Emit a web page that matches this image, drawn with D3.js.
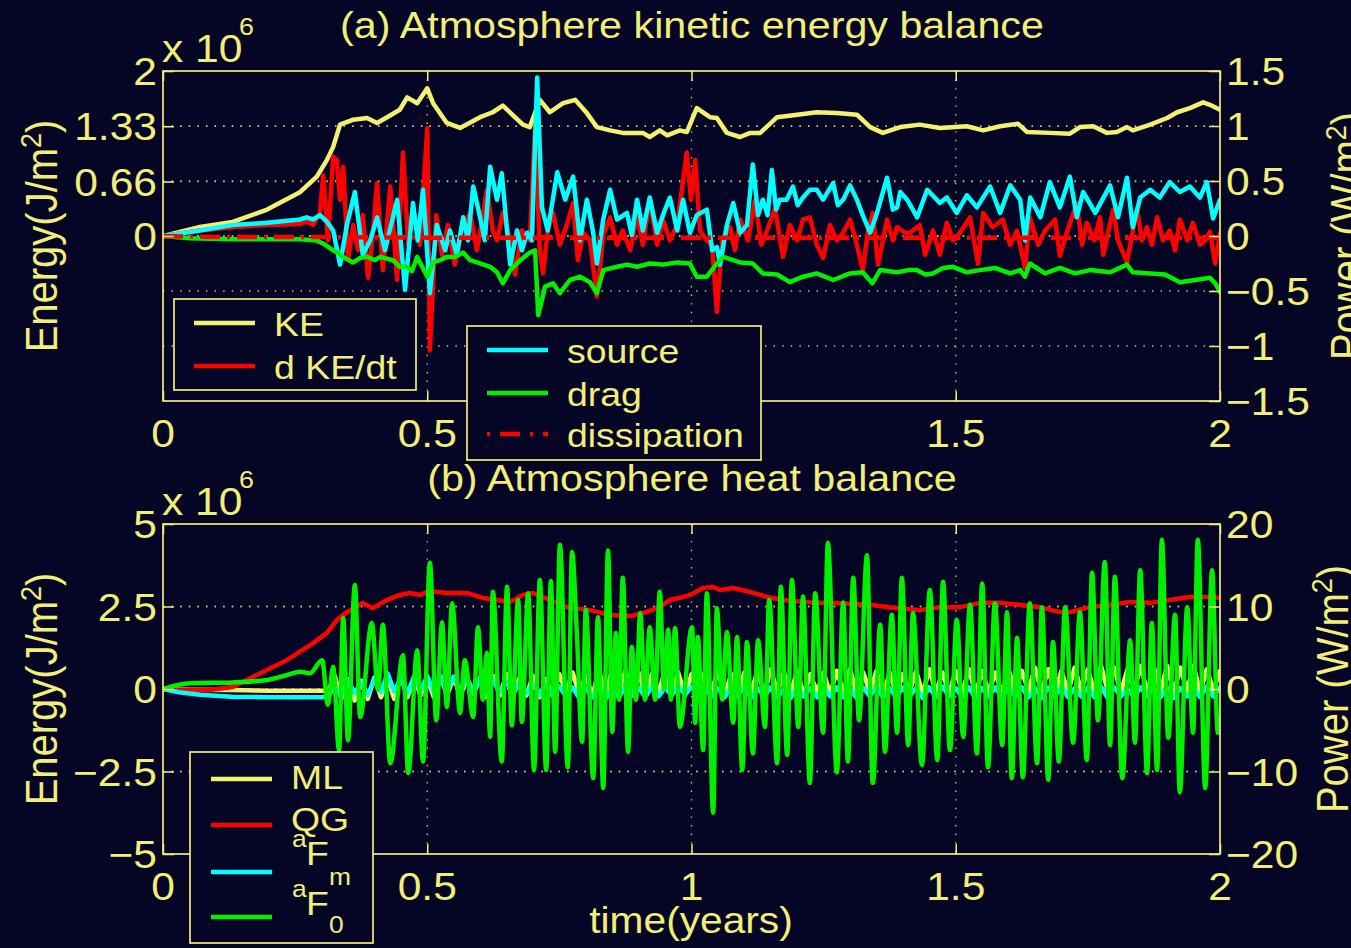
<!DOCTYPE html>
<html><head><meta charset="utf-8">
<script src="https://cdn.jsdelivr.net/npm/d3@7"></script>
<style>html,body{margin:0;padding:0;background:#050626;overflow:hidden}svg{display:block}</style>
</head><body>
<script>
// ---------------- DATA ----------------
const xTicks = [0, 0.5, 1, 1.5, 2];
const aLeftTicks = [0, 0.66, 1.33, 2];
const aLeftLabels = ["0", "0.66", "1.33", "2"];
const aRightTicks = [-1.5, -1, -0.5, 0, 0.5, 1, 1.5];
const bLeftTicks = [-5, -2.5, 0, 2.5, 5];
const bRightTicks = [-20, -10, 0, 10, 20];

// Panel (a): KE (x1e6 J/m^2, left axis)
const KE = [[0,0],[0.070,0.11],[0.132,0.17],[0.197,0.32],[0.259,0.53],[0.291,0.72],[0.310,0.92],[0.322,1.08],[0.335,1.35],[0.360,1.41],[0.386,1.43],[0.405,1.37],[0.424,1.44],[0.448,1.53],[0.462,1.68],[0.481,1.61],[0.500,1.79],[0.511,1.61],[0.537,1.37],[0.562,1.31],[0.600,1.44],[0.624,1.50],[0.643,1.58],[0.681,1.35],[0.694,1.32],[0.713,1.65],[0.732,1.50],[0.757,1.61],[0.780,1.65],[0.802,1.49],[0.821,1.32],[0.846,1.28],[0.870,1.25],[0.908,1.25],[0.921,1.20],[0.940,1.28],[0.954,1.22],[0.978,1.28],[0.991,1.26],[1.010,1.55],[1.035,1.44],[1.048,1.43],[1.067,1.25],[1.092,1.20],[1.111,1.25],[1.130,1.25],[1.162,1.44],[1.200,1.47],[1.237,1.50],[1.275,1.49],[1.313,1.47],[1.338,1.32],[1.362,1.25],[1.395,1.32],[1.432,1.35],[1.470,1.31],[1.521,1.33],[1.552,1.28],[1.584,1.33],[1.618,1.36],[1.635,1.26],[1.678,1.25],[1.716,1.24],[1.735,1.32],[1.760,1.33],[1.786,1.25],[1.805,1.26],[1.824,1.32],[1.835,1.28],[1.868,1.35],[1.900,1.43],[1.919,1.50],[1.943,1.55],[1.968,1.62],[1.981,1.59],[2.000,1.53]];

// d KE/dt (W/m^2, right axis)
const dKEdt = [[0,0],[0.070,0.05],[0.132,0.08],[0.197,0.10],[0.259,0.11],[0.272,0.13],[0.284,0.10],[0.297,0.21],[0.303,0.55],[0.312,-0.04],[0.322,0.72],[0.329,0.69],[0.335,0.33],[0.341,0.63],[0.350,-0.22],[0.360,0.10],[0.369,-0.13],[0.378,0.19],[0.388,-0.38],[0.397,0.01],[0.405,0.48],[0.416,-0.31],[0.430,0.45],[0.443,-0.40],[0.454,0.76],[0.464,-0.08],[0.473,0.24],[0.486,-0.08],[0.500,0.98],[0.505,-1.04],[0.517,0.19],[0.528,-0.17],[0.539,0.10],[0.552,-0.26],[0.566,0.05],[0.581,0.21],[0.594,-0.13],[0.613,0.42],[0.624,0.05],[0.632,-0.04],[0.643,0.21],[0.657,-0.04],[0.666,-0.35],[0.679,0.05],[0.694,-0.04],[0.704,0.99],[0.713,-0.13],[0.719,-0.34],[0.728,0.05],[0.738,0.21],[0.751,-0.08],[0.764,0.10],[0.776,0.30],[0.785,-0.22],[0.795,0.03],[0.808,-0.04],[0.821,-0.55],[0.833,0.01],[0.846,0.17],[0.859,-0.08],[0.870,0.05],[0.884,-0.13],[0.897,0.19],[0.908,-0.08],[0.921,0.33],[0.935,-0.08],[0.946,0.15],[0.959,-0.04],[0.973,0.10],[0.991,0.76],[0.999,0.33],[1.007,0.69],[1.016,0.05],[1.029,-0.04],[1.039,-0.08],[1.048,-0.69],[1.058,-0.04],[1.073,0.08],[1.082,-0.13],[1.092,0.15],[1.107,-0.04],[1.120,0.33],[1.132,-0.08],[1.143,0.05],[1.158,0.25],[1.173,-0.19],[1.186,0.10],[1.200,-0.04],[1.211,0.15],[1.224,0.17],[1.237,-0.08],[1.249,-0.20],[1.262,0.10],[1.275,-0.04],[1.287,0.03],[1.300,0.15],[1.313,-0.08],[1.324,-0.31],[1.334,0.05],[1.343,0.21],[1.353,-0.26],[1.370,0.15],[1.381,-0.04],[1.389,0.08],[1.404,0.03],[1.413,0.03],[1.432,0.10],[1.442,-0.17],[1.457,0.05],[1.470,-0.17],[1.483,0.12],[1.495,-0.04],[1.508,0.03],[1.527,0.17],[1.542,-0.25],[1.552,0.21],[1.570,0.08],[1.589,0.15],[1.603,-0.08],[1.616,0.05],[1.631,-0.29],[1.640,0.17],[1.656,-0.08],[1.669,0.05],[1.688,0.15],[1.697,-0.18],[1.710,0.03],[1.729,0.30],[1.739,-0.08],[1.748,0.12],[1.762,-0.04],[1.773,0.17],[1.779,-0.17],[1.798,0.24],[1.807,-0.04],[1.824,-0.24],[1.843,0.25],[1.852,-0.04],[1.862,0.08],[1.871,-0.08],[1.881,0.17],[1.892,-0.04],[1.905,0.05],[1.915,-0.13],[1.924,0.15],[1.938,-0.04],[1.949,0.12],[1.962,-0.08],[1.972,-0.04],[1.981,0.04],[1.991,-0.25],[2.000,0.03]];

// source (W/m^2)
const source = [[0,0],[0.070,0.05],[0.132,0.10],[0.197,0.12],[0.259,0.15],[0.272,0.17],[0.284,0.15],[0.297,0.19],[0.310,0.13],[0.322,0.05],[0.335,-0.26],[0.348,0.10],[0.363,0.40],[0.378,-0.17],[0.392,-0.04],[0.405,0.17],[0.420,-0.13],[0.443,0.33],[0.458,-0.49],[0.473,0.30],[0.482,-0.04],[0.492,0.42],[0.505,-0.52],[0.518,0.10],[0.534,-0.13],[0.543,0.05],[0.556,-0.17],[0.568,0.17],[0.577,-0.04],[0.587,0.45],[0.600,0.17],[0.609,-0.04],[0.619,0.63],[0.632,0.33],[0.641,0.57],[0.657,-0.26],[0.670,0.05],[0.679,-0.13],[0.689,0.03],[0.698,-0.04],[0.708,1.44],[0.717,0.26],[0.728,0.05],[0.746,0.58],[0.761,0.33],[0.776,0.54],[0.789,-0.04],[0.802,0.33],[0.814,0.03],[0.821,-0.25],[0.833,0.15],[0.846,0.42],[0.859,0.15],[0.878,0.21],[0.887,0.01],[0.897,0.33],[0.908,0.05],[0.921,0.35],[0.935,0.03],[0.946,0.19],[0.959,0.35],[0.973,0.05],[0.984,0.33],[0.997,0.03],[1.010,0.19],[1.029,0.24],[1.039,-0.13],[1.048,-0.10],[1.054,-0.26],[1.067,0.10],[1.079,0.30],[1.092,0.03],[1.105,0.10],[1.116,0.65],[1.126,0.19],[1.135,0.33],[1.144,0.19],[1.152,0.60],[1.160,0.24],[1.167,0.33],[1.180,0.33],[1.192,0.45],[1.201,0.28],[1.211,0.35],[1.224,0.42],[1.237,0.42],[1.249,0.33],[1.268,0.48],[1.277,0.28],[1.287,0.33],[1.300,0.46],[1.313,0.33],[1.324,0.19],[1.338,0.03],[1.351,0.21],[1.370,0.53],[1.381,0.24],[1.389,0.26],[1.395,0.40],[1.408,0.33],[1.427,0.17],[1.446,0.42],[1.470,0.30],[1.483,0.35],[1.502,0.21],[1.521,0.37],[1.540,0.26],[1.565,0.45],[1.584,0.21],[1.603,0.46],[1.622,0.33],[1.631,-0.04],[1.641,0.35],[1.660,0.17],[1.678,0.49],[1.697,0.26],[1.716,0.54],[1.729,0.17],[1.741,0.40],[1.764,0.21],[1.792,0.46],[1.807,0.17],[1.824,0.53],[1.835,0.08],[1.849,0.35],[1.868,0.42],[1.886,0.35],[1.905,0.49],[1.924,0.40],[1.943,0.45],[1.962,0.35],[1.975,0.49],[1.987,0.16],[2.000,0.33]];

// drag (W/m^2)
const drag = [[0,0],[0.051,-0.02],[0.132,-0.03],[0.197,-0.03],[0.259,-0.03],[0.291,-0.04],[0.307,-0.08],[0.322,-0.13],[0.329,-0.15],[0.344,-0.20],[0.360,-0.24],[0.373,-0.20],[0.386,-0.19],[0.401,-0.22],[0.411,-0.19],[0.435,-0.22],[0.448,-0.28],[0.462,-0.28],[0.471,-0.32],[0.481,-0.19],[0.500,-0.37],[0.511,-0.24],[0.524,-0.22],[0.537,-0.19],[0.552,-0.19],[0.568,-0.15],[0.581,-0.22],[0.594,-0.24],[0.619,-0.28],[0.632,-0.33],[0.643,-0.43],[0.657,-0.31],[0.676,-0.22],[0.694,-0.15],[0.704,-0.13],[0.710,-0.72],[0.723,-0.46],[0.738,-0.43],[0.751,-0.52],[0.770,-0.40],[0.789,-0.37],[0.808,-0.42],[0.821,-0.52],[0.833,-0.31],[0.859,-0.28],[0.878,-0.26],[0.897,-0.28],[0.921,-0.25],[0.946,-0.26],[0.973,-0.24],[0.997,-0.25],[1.010,-0.37],[1.029,-0.37],[1.048,-0.25],[1.060,-0.19],[1.092,-0.24],[1.116,-0.25],[1.135,-0.34],[1.162,-0.35],[1.186,-0.42],[1.211,-0.37],[1.237,-0.34],[1.268,-0.40],[1.300,-0.34],[1.324,-0.33],[1.342,-0.43],[1.357,-0.31],[1.389,-0.33],[1.410,-0.31],[1.427,-0.31],[1.442,-0.35],[1.457,-0.34],[1.476,-0.29],[1.495,-0.28],[1.521,-0.33],[1.546,-0.31],[1.574,-0.29],[1.603,-0.34],[1.622,-0.31],[1.631,-0.37],[1.640,-0.25],[1.669,-0.34],[1.697,-0.29],[1.726,-0.34],[1.754,-0.31],[1.792,-0.33],[1.824,-0.26],[1.835,-0.33],[1.868,-0.34],[1.896,-0.35],[1.924,-0.42],[1.953,-0.40],[1.981,-0.38],[1.991,-0.43],[2.000,-0.51]];

// dissipation (W/m^2)
const dissipation = [[0,0],[0.1,-0.01],[0.3,-0.01],[0.5,-0.015],[1.0,-0.015],[1.5,-0.015],[2.0,-0.015]];

// Panel (b): QG (x1e6 J/m^2, left axis)
const QG = [[0,0],[0.045,-0.03],[0.089,-0.03],[0.132,0.06],[0.184,0.48],[0.235,0.88],[0.284,1.39],[0.310,1.70],[0.329,2.09],[0.348,2.33],[0.378,2.61],[0.397,2.45],[0.424,2.70],[0.448,2.85],[0.467,2.91],[0.486,2.85],[0.505,2.97],[0.537,2.91],[0.575,2.91],[0.605,2.76],[0.632,2.70],[0.657,2.64],[0.681,2.85],[0.700,2.91],[0.732,2.70],[0.764,2.48],[0.808,2.39],[0.846,2.24],[0.884,2.21],[0.908,2.30],[0.940,2.48],[0.959,2.70],[0.984,2.79],[0.997,2.85],[1.022,3.06],[1.041,3.09],[1.054,3.00],[1.079,3.06],[1.111,2.94],[1.143,2.79],[1.173,2.70],[1.211,2.64],[1.237,2.61],[1.268,2.61],[1.300,2.58],[1.338,2.55],[1.389,2.45],[1.432,2.39],[1.470,2.48],[1.508,2.48],[1.546,2.61],[1.584,2.61],[1.622,2.55],[1.659,2.48],[1.697,2.33],[1.716,2.33],[1.754,2.48],[1.792,2.55],[1.830,2.64],[1.868,2.61],[1.905,2.70],[1.943,2.79],[1.981,2.79],[2.000,2.76]];

// ML (x1e6 J/m^2, left axis): spin-up then sampled record
const MLstart = [[0,0],[0.05,-0.02],[0.13,-0.03],[0.2,-0.05],[0.26,-0.05],[0.30,-0.05]];
const recordT0 = 0.3125;
const MLrecord = [-0.05,0.40,-0.30,0.30,-0.35,0.25,-0.30,0.35,-0.25,0.30,-0.30,0.40,-0.25,0.35,-0.20,0.30,-0.25,0.40,-0.20,0.35,
 -0.20,0.30,-0.15,0.35,-0.25,0.40,-0.20,0.45,-0.15,0.35,-0.20,0.40,-0.25,0.30,-0.20,0.45,-0.10,0.50,-0.15,0.40,-0.20,0.55,-0.15,0.60,-0.10,0.55,-0.15,0.50,-0.20,0.45,-0.10,0.55,-0.15,0.50,-0.20,0.45,
 -0.15,0.50,-0.10,0.55,-0.20,0.45,-0.15,0.50,-0.10,0.55,-0.15,0.60,-0.10,0.50,-0.15,0.55,-0.20,0.45,-0.10,0.50,-0.15,0.55,-0.10,0.60,-0.15,0.50,-0.10,0.55,-0.20,0.50,-0.15,0.45,-0.10,0.55,-0.15,0.60,-0.10,0.50,-0.15,0.55,-0.10,0.60,-0.15,0.55,-0.10,0.50,-0.15,0.60,-0.10,0.55,-0.05,0.65,-0.10,0.60,-0.15,0.55,-0.10,0.65,-0.05,0.60,-0.10,0.70,-0.05,0.65,-0.10,0.60,-0.05,0.70,-0.10,0.65,-0.05,0.70,-0.10,0.65,-0.05,0.70,-0.10,0.60,-0.05,0.55];

// aF (W/m^2, right axis)
const aFstart = [[0,0],[0.03,-0.4],[0.07,-0.7],[0.13,-0.95],[0.2,-1.0],[0.30,-1.0]];
const aFrecord = [-0.9,0.3,-0.8,1.1,-0.5,0.8,-0.7,1.2,-0.4,1.9,-0.3,1.3,-0.5,1.5,-0.2,1.6,-0.4,1.4,-0.3,1.5,
 -0.2,1.4,-0.3,1.2,-0.5,1.0,-0.4,0.9,-0.6,0.8,-0.5,0.6,-0.7,0.5,-0.8,0.3,-0.9,0.2,-1.1,0.1,-1.0,0.2,-1.2,0.0,-1.0,0.3,-0.8,0.2,-1.0,0.3,-0.9,0.2,-0.8,0.4,-0.7,0.3,
 -0.8,0.2,-0.9,0.1,-1.0,0.2,-0.9,0.3,-1.1,0.1,-0.9,0.2,-1.0,0.0,-1.1,0.2,-0.9,0.1,-1.0,0.3,-0.9,0.2,-1.0,0.1,-1.1,0.2,-0.9,0.3,-1.0,0.1,-1.0,0.2,-0.9,0.1,-1.1,0.2,-1.0,0.3,-0.9,0.1,-1.0,0.2,-1.1,0.1,-0.9,0.2,-1.0,0.3,-0.9,0.2,-1.0,0.1,-1.1,0.2,-0.9,0.3,-1.0,0.1,-0.9,0.2,-1.0,0.3,-1.1,0.2,-0.9,0.1,-1.0,0.2,-0.9,0.3,-1.0,0.2,-1.1,0.1,-0.9,0.2,-1.0,0.3,-0.9,0.2];

// aF0 (W/m^2, right axis)
const aF0 = [[0,0],[0.051,0.7],[0.132,0.8],[0.197,1.1],[0.235,1.7],[0.259,2.1],[0.278,1.9],[0.301,3.5],[0.312,-1.9],[0.322,2.7],[0.333,-7.4],[0.341,8.6],[0.350,-6.2],[0.363,12.6],[0.373,-3.4],[0.395,8.0],[0.407,-0.1],[0.416,7.8],[0.430,-9.0],[0.454,4.1],[0.464,-10.2],[0.481,4.7],[0.492,-8.8],[0.505,15.3],[0.517,-3.8],[0.528,8.1],[0.537,-2.2],[0.547,10.4],[0.562,-2.9],[0.571,3.5],[0.587,-3.4],[0.596,7.5],[0.605,-1.3],[0.613,4.4],[0.619,-5.8],[0.624,11.8],[0.641,-8.8],[0.651,12.4],[0.660,-4.4],[0.672,10.8],[0.679,-4.0],[0.691,11.6],[0.702,-9.8],[0.713,13.2],[0.725,-9.8],[0.734,13.1],[0.742,-7.6],[0.751,17.5],[0.766,-9.5],[0.774,16.6],[0.783,6.8],[0.793,-6.4],[0.800,9.6],[0.814,-10.8],[0.823,8.7],[0.833,-12.0],[0.842,16.8],[0.850,-5.2],[0.857,6.8],[0.863,-1.3],[0.870,13.5],[0.880,-7.6],[0.887,5.1],[0.895,-1.3],[0.903,9.2],[0.912,-1.3],[0.921,7.5],[0.931,-1.3],[0.940,11.8],[0.948,-0.1],[0.956,7.2],[0.961,-1.3],[0.969,7.4],[0.978,-4.6],[1.001,7.5],[1.007,-4.1],[1.012,6.3],[1.022,-7.4],[1.029,11.6],[1.041,-15.0],[1.048,9.8],[1.058,-1.3],[1.067,6.9],[1.079,-4.1],[1.086,6.3],[1.096,-9.8],[1.105,5.7],[1.116,-7.8],[1.126,5.9],[1.139,-4.6],[1.147,10.8],[1.162,-9.0],[1.169,12.4],[1.181,-8.0],[1.190,13.2],[1.202,-4.6],[1.211,11.2],[1.224,-11.4],[1.234,11.6],[1.249,-5.3],[1.258,17.7],[1.275,-10.1],[1.287,10.5],[1.296,-8.8],[1.306,13.5],[1.317,-3.8],[1.332,16.2],[1.343,-11.4],[1.357,7.8],[1.366,-7.6],[1.379,9.0],[1.389,-5.3],[1.398,13.5],[1.410,-6.8],[1.419,9.2],[1.436,-9.2],[1.451,12.0],[1.465,-8.6],[1.476,13.0],[1.489,-7.4],[1.502,8.4],[1.514,-5.8],[1.527,10.2],[1.540,-7.8],[1.550,12.8],[1.561,-9.5],[1.574,10.4],[1.588,-6.8],[1.597,9.3],[1.606,-10.8],[1.616,6.2],[1.627,-10.7],[1.640,10.4],[1.654,-9.0],[1.663,9.9],[1.675,-11.0],[1.684,5.7],[1.695,-8.8],[1.707,9.9],[1.722,-6.5],[1.735,9.3],[1.748,-8.6],[1.758,14.1],[1.769,-3.8],[1.782,15.4],[1.792,-6.8],[1.801,13.6],[1.815,-10.8],[1.830,5.9],[1.839,-6.5],[1.849,14.4],[1.862,-10.2],[1.871,8.0],[1.881,-9.8],[1.890,18.1],[1.902,-5.9],[1.915,9.0],[1.924,-12.5],[1.938,9.9],[1.949,-5.3],[1.958,18.1],[1.972,-12.0],[1.985,14.4],[1.996,-5.3],[2.000,-3.8]];

// ---------------- STYLE / LAYOUT ----------------
const W = 1351, H = 948;
const BG = "#050626", FG = "#f2ee78";
const YEL = "#f5f170", RED = "#ff0000", CYAN = "#00ffff", GREEN = "#00f000";
const FONT = "'Liberation Sans', Arial, Helvetica, sans-serif";
const SX = 1.12;
const LW = 4.5;

const svg = d3.select("body").append("svg").attr("width", W).attr("height", H);
svg.append("rect").attr("width", W).attr("height", H).attr("fill", BG);

function fmt(v) { return String(v).replace("-", "\u2212"); }

function label(parent, x, y, parts, o) {
  o = Object.assign({anchor: "start", sx: SX, rot: 0}, o || {});
  const g = parent.append("g").attr("transform",
    `translate(${x},${y}) scale(${o.sx},1)` + (o.rot ? ` rotate(${o.rot})` : ""));
  const t = g.append("text").attr("text-anchor", o.anchor).attr("fill", FG)
    .attr("font-family", FONT);
  parts.forEach(p => {
    const ts = t.append("tspan").text(p.s).attr("font-size", p.size);
    if (p.dy) ts.attr("dy", p.dy);
  });
  return t;
}

const L = 163, R = 1220;
const x = d3.scaleLinear().domain([0, 2]).range([L, R]);

function drawPanel(p) {
  const yL = d3.scaleLinear().domain(p.yL).range([p.bottom, p.top]);
  const yR = d3.scaleLinear().domain(p.yR).range([p.bottom, p.top]);
  const g = svg.append("g");
  const clipId = "clip" + p.id;
  svg.append("clipPath").attr("id", clipId).append("rect")
    .attr("x", L).attr("y", p.top).attr("width", R - L).attr("height", p.bottom - p.top);

  // grid (dotted)
  const grid = g.append("g").attr("stroke", FG).attr("stroke-width", 1.3)
    .attr("stroke-dasharray", "1.4,7.2").attr("opacity", 0.85);
  xTicks.filter(v => v > 0 && v < 2).forEach(v =>
    grid.append("line").attr("x1", x(v)).attr("x2", x(v)).attr("y1", p.top).attr("y2", p.bottom));
  p.lt.filter(v => yL(v) > p.top + 1 && yL(v) < p.bottom - 1).forEach(v =>
    grid.append("line").attr("x1", L).attr("x2", R).attr("y1", yL(v)).attr("y2", yL(v)));
  p.rt.filter(v => yR(v) > p.top + 1 && yR(v) < p.bottom - 1).forEach(v =>
    grid.append("line").attr("x1", L).attr("x2", R).attr("y1", yR(v)).attr("y2", yR(v)));

  // series
  const lg = g.append("g").attr("clip-path", `url(#${clipId})`);
  p.series.forEach(s => {
    const ys = s.axis === "L" ? yL : yR;
    const ln = d3.line().x(d => x(d[0])).y(d => ys(d[1])).curve(s.curve || d3.curveLinear);
    lg.append("path").attr("d", ln(s.data)).attr("fill", "none").attr("stroke", s.color)
      .attr("stroke-width", LW).attr("stroke-linejoin", "round").attr("stroke-linecap", s.dash ? "butt" : "round")
      .attr("stroke-dasharray", s.dash || null);
  });

  // box
  g.append("rect").attr("x", L).attr("y", p.top).attr("width", R - L).attr("height", p.bottom - p.top)
    .attr("fill", "none").attr("stroke", FG).attr("stroke-width", 1.7);

  // tick marks via d3 axes (inward)
  const styleAxis = sel => { sel.select(".domain").remove(); sel.selectAll("line").attr("stroke", FG).attr("stroke-width", 1.5); sel.selectAll("text").remove(); };
  g.append("g").attr("transform", `translate(0,${p.bottom})`)
    .call(d3.axisBottom(x).tickValues(xTicks).tickSize(-10).tickSizeOuter(0)).call(styleAxis);
  g.append("g").attr("transform", `translate(0,${p.top})`)
    .call(d3.axisTop(x).tickValues(xTicks).tickSize(-10).tickSizeOuter(0)).call(styleAxis);
  g.append("g").attr("transform", `translate(${L},0)`)
    .call(d3.axisLeft(yL).tickValues(p.lt).tickSize(-11).tickSizeOuter(0)).call(styleAxis);
  g.append("g").attr("transform", `translate(${R},0)`)
    .call(d3.axisRight(yR).tickValues(p.rt).tickSize(-11).tickSizeOuter(0)).call(styleAxis);

  // tick labels (labels hidden by a legend box are skipped)
  const TS = 38;
  xTicks.filter(v => !(p.hideX || []).includes(v)).forEach(v =>
    label(g, x(v), p.bottom + 45.5, [{s: fmt(v), size: TS}], {anchor: "middle"}));
  p.lt.forEach((v, i) => label(g, 157, yL(v) + 14, [{s: p.ltLab[i], size: TS}], {anchor: "end"}));
  p.rt.forEach(v => label(g, 1226, yR(v) + 14, [{s: fmt(v), size: TS}], {anchor: "start"}));

  // exponent
  label(g, 162, p.top - 9.5, [{s: "x 10", size: TS}]);
  label(g, 239, p.top - 36, [{s: "6", size: 24}]);

  // titles
  label(g, p.titleX, p.titleY, [{s: p.title, size: 37}], {anchor: "middle", sx: 1.115});

  // y labels (rotated)
  label(g, 57, (p.top + p.bottom) / 2, [{s: "Energy(J/m", size: 40}, {s: "2", size: 27, dy: -15}, {s: ")", size: 40, dy: 15}], {anchor: "middle", rot: -90, sx: 1.1});
  label(g, p.rLabX, (p.top + p.bottom) / 2, [{s: "Power (W/m", size: 40}, {s: "2", size: 27, dy: -15}, {s: ")", size: 40, dy: 15}], {anchor: "middle", rot: -90, sx: 1.1});
  return {yL, yR, g};
}

// Panel (a)
drawPanel({
  id: "a", top: 71, bottom: 401, yL: [-2, 2], yR: [-1.5, 1.5],
  lt: aLeftTicks, ltLab: aLeftLabels, rt: aRightTicks, hideX: [1],
  title: "(a) Atmosphere kinetic energy balance", titleX: 692, titleY: 38, rLabX: 1362,
  series: [
    {data: KE, axis: "L", color: YEL},
    {data: dKEdt, axis: "R", color: RED},
    {data: source, axis: "R", color: CYAN},
    {data: drag, axis: "R", color: GREEN},
    {data: dissipation, axis: "R", color: RED, dash: "20,7,3,7"}
  ]
});

// Panel (b)
const stepML = (2 - recordT0) / (MLrecord.length - 1);
const ML = MLstart.concat(MLrecord.map((v, i) => [recordT0 + i * stepML, v]));
const stepAF = (2 - recordT0) / (aFrecord.length - 1);
const aF = aFstart.concat(aFrecord.map((v, i) => [recordT0 + i * stepAF, v]));

drawPanel({
  id: "b", top: 524, bottom: 854, yL: [-5, 5], yR: [-20, 20],
  lt: bLeftTicks, ltLab: bLeftTicks.map(fmt), rt: bRightTicks,
  title: "(b) Atmosphere heat balance", titleX: 692, titleY: 491, rLabX: 1348,
  series: [
    {data: ML, axis: "L", color: YEL},
    {data: QG, axis: "L", color: RED},
    {data: aF, axis: "R", color: CYAN},
    {data: aF0, axis: "R", color: GREEN, curve: d3.curveMonotoneX}
  ]
});

// x label
label(svg, 691, 933, [{s: "time(years)", size: 37}], {anchor: "middle", sx: 1.1});

// ---------------- LEGENDS ----------------
const LS = 34;
function legendBox(x0, y0, w, h) {
  svg.append("rect").attr("x", x0).attr("y", y0).attr("width", w).attr("height", h)
    .attr("fill", BG).attr("stroke", FG).attr("stroke-width", 1.7);
}
function legendLine(x1, x2, y, color, dash) {
  svg.append("line").attr("x1", x1).attr("x2", x2).attr("y1", y).attr("y2", y)
    .attr("stroke", color).attr("stroke-width", 4.5).attr("stroke-dasharray", dash || null);
}
// legend a1
const legA1 = [{name: "KE", color: YEL, y: 323}, {name: "d KE/dt", color: RED, y: 366}];
legendBox(174, 299, 242, 91);
legA1.forEach(e => { legendLine(194, 255, e.y, e.color); label(svg, 274, e.y + 13, [{s: e.name, size: LS}], {sx: 1.1}); });
// legend a2
const legA2 = [{name: "source", color: CYAN, y: 350}, {name: "drag", color: GREEN, y: 393}, {name: "dissipation", color: RED, y: 434, dash: "3,10,20,10"}];
legendBox(467, 326, 294, 134);
legA2.forEach(e => { legendLine(487, 548, e.y, e.color, e.dash); label(svg, 567, e.y + 12.5, [{s: e.name, size: LS}], {sx: 1.1}); });
// legend b
legendBox(190, 752, 183, 191);
const legB = [{color: YEL, y: 779}, {color: RED, y: 825}, {color: CYAN, y: 872}, {color: GREEN, y: 917}];
legB.forEach(e => legendLine(211, 272, e.y, e.color));
label(svg, 291, 789, [{s: "ML", size: LS}], {sx: 1.1});
label(svg, 291, 831, [{s: "QG", size: LS}], {sx: 1.1});
label(svg, 292, 847, [{s: "a", size: 24}], {sx: 1.1});
label(svg, 306, 865, [{s: "F", size: LS}], {sx: 1.1});
label(svg, 292, 897, [{s: "a", size: 24}], {sx: 1.1});
label(svg, 306, 915, [{s: "F", size: LS}], {sx: 1.1});
label(svg, 329, 885, [{s: "m", size: 24}], {sx: 1.1});
label(svg, 329, 933, [{s: "0", size: 24}], {sx: 1.1});
</script>
</body></html>
